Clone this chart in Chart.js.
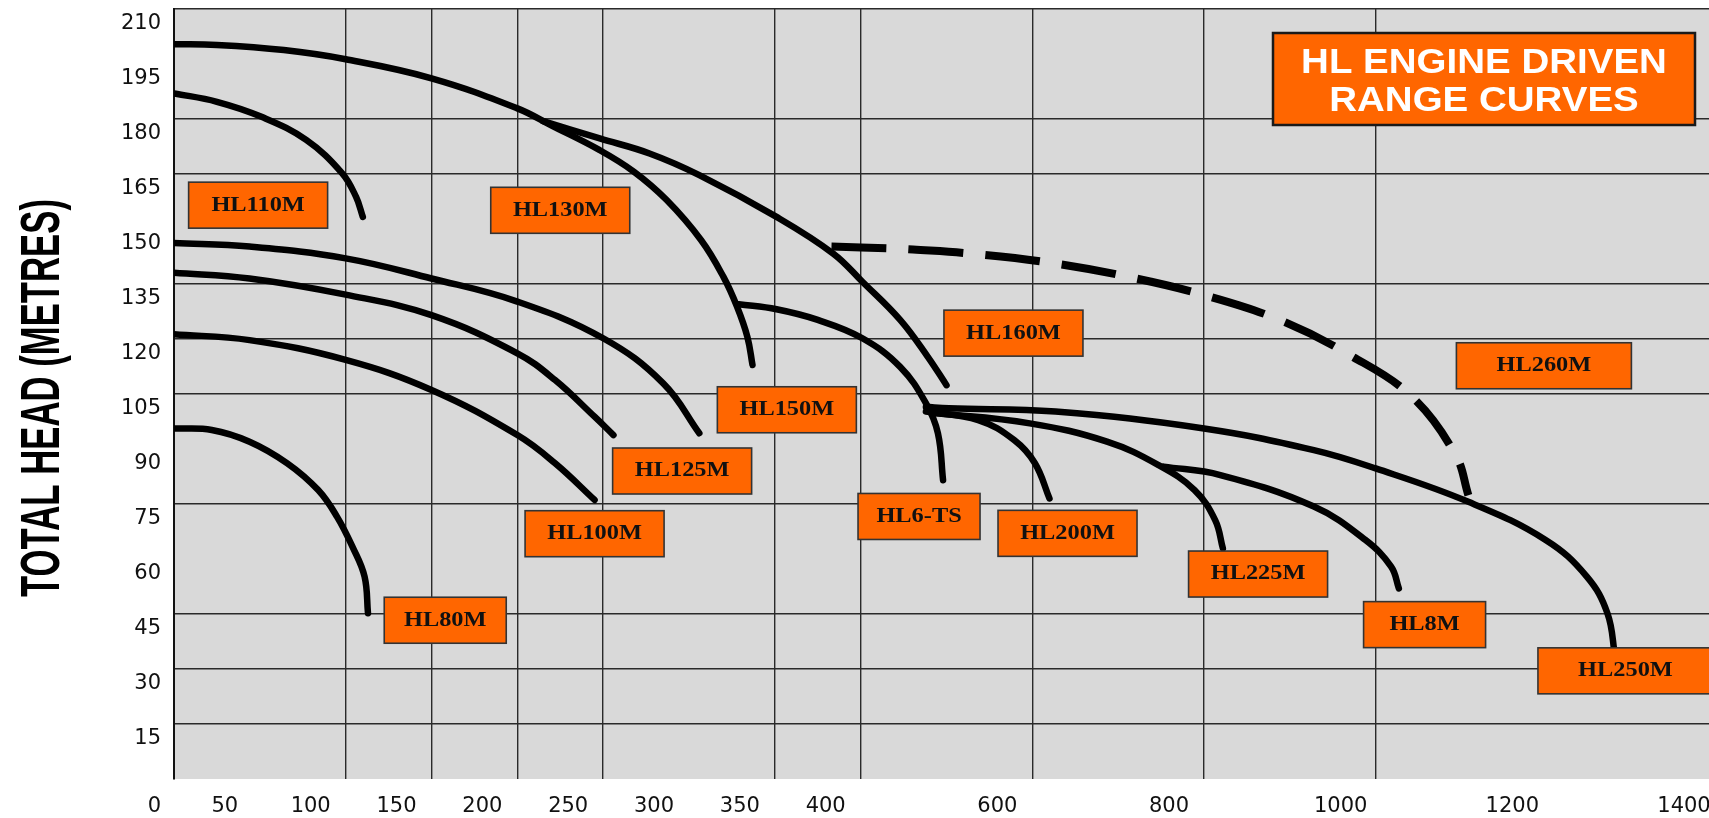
<!DOCTYPE html>
<html>
<head>
<meta charset="utf-8">
<script src="https://cdn.jsdelivr.net/npm/chart.js@4/dist/chart.umd.min.js"></script>
<style>
html,body{margin:0;padding:0;background:#fff;overflow:hidden;width:1709px;height:818px}
canvas{display:block}
</style>
</head>
<body>
<canvas id="c" width="1719" height="818" style="width:1719px;height:818px"></canvas>
<script>
// ---------- DATA (flow, total head in metres) ----------
const xTickValues = [0, 50, 100, 150, 200, 250, 300, 350, 400, 600, 800, 1000, 1200, 1400];
const xGridValues = [100, 150, 200, 250, 350, 400, 600, 800, 1000];
const yTickValues = [0, 15, 30, 45, 60, 75, 90, 105, 120, 135, 150, 165, 180, 195, 210];
const yGridValues = [15, 30, 45, 75, 105, 120, 135, 165, 180, 210];

const hl80mFlow = [0, 22, 44, 66, 84, 95, 104, 111, 113];
const hl80mHead = [95.6, 95.2, 92, 86.1, 78.8, 71.5, 63.3, 55.2, 45.2];

const hl110mFlow = [0, 25, 51, 77, 98, 106, 110];
const hl110mHead = [187, 184.7, 180.6, 174.3, 165.2, 158.8, 153.3];

const hl100mFlow = [0, 44, 100, 150, 200, 222, 245];
const hl100mHead = [121.3, 119.7, 114.3, 106.1, 93.8, 86.1, 76.1];

const hl125mFlow = [0, 44, 100, 150, 200, 222, 245, 256];
const hl125mHead = [138.1, 136.5, 132.1, 126.5, 116.1, 108.8, 98.8, 93.8];

const hl130mFlow = [0, 44, 100, 150, 200, 250, 285, 306];
const hl130mHead = [146.2, 145.2, 142, 136.5, 130.2, 120.2, 107.9, 94.3];

const hl150mFlow = [0, 25, 64, 100, 150, 200, 220, 248, 268, 287, 307, 320, 328, 334, 337];
const hl150mHead = [200.4, 200.2, 198.8, 196.3, 191.1, 182.9, 178.2, 171.5, 165.6, 157.9, 147, 137, 128.8, 120.6, 112.9];

const hl160mFlow = [215, 248, 277, 306, 351, 384, 402, 446, 478, 500];
const hl160mHead = [179.4, 174.7, 170.6, 164.7, 153.3, 143.3, 135.6, 125.2, 115.2, 107.4];

const hl6tsFlow = [329, 351, 375, 402, 446, 476, 490, 496];
const hl6tsHead = [129.5, 128.1, 125.2, 120.2, 112.4, 102.5, 94.3, 81.5];

const hl260mFlow = [383, 435, 461, 528, 621, 711, 800, 888, 970, 1042, 1093, 1108];
const hl260mHead = [145.2, 144.7, 144.4, 143.3, 140.8, 137, 132, 125.2, 115.6, 104.3, 88.4, 77.4];

const hl200mFlow = [476, 537, 579, 603, 620];
const hl200mHead = [100.2, 97.9, 92.4, 86.1, 76.5];

const hl225mFlow = [482, 597, 687, 747, 789, 813, 822];
const hl225mHead = [99.9, 97, 92, 85.6, 78.8, 70.6, 62.9];

const hl8mFlow = [753, 819, 928, 988, 1018, 1027];
const hl8mHead = [85.2, 82.9, 74.3, 65.2, 57.9, 52];

const hl250mFlow = [476, 503, 627, 800, 928, 1000, 1108, 1198, 1246, 1270, 1279];
const hl250mHead = [101.5, 101.1, 100.2, 95.6, 89.7, 84.7, 75.6, 65.2, 55.2, 45.2, 33.4];

// label boxes: name and anchor (flow, head) of box centre
const boxNames = ['HL110M', 'HL130M', 'HL80M', 'HL100M', 'HL125M', 'HL150M', 'HL160M', 'HL6-TS', 'HL200M', 'HL225M', 'HL8M', 'HL260M', 'HL250M'];
const boxFlow  = [49, 225, 158, 245, 296, 357, 578, 468, 641, 863, 1057, 1196, 1291];
const boxHead  = [156.5, 155.1, 43.3, 66.9, 84, 100.7, 121.6, 71.6, 67, 55.9, 42.1, 112.7, 29.5];

// ---------- AXIS MAPPING (0-400 full scale, above 400 compressed 2:1) ----------
function toAxis(q) { return q <= 400 ? q : 400 + (q - 400) / 2; }

const series = [
  { name: 'HL80M', flow: hl80mFlow, head: hl80mHead },
  { name: 'HL110M', flow: hl110mFlow, head: hl110mHead },
  { name: 'HL100M', flow: hl100mFlow, head: hl100mHead },
  { name: 'HL125M', flow: hl125mFlow, head: hl125mHead },
  { name: 'HL130M', flow: hl130mFlow, head: hl130mHead },
  { name: 'HL150M', flow: hl150mFlow, head: hl150mHead },
  { name: 'HL160M', flow: hl160mFlow, head: hl160mHead },
  { name: 'HL6-TS', flow: hl6tsFlow, head: hl6tsHead },
  { name: 'HL260M', flow: hl260mFlow, head: hl260mHead, dashed: true },
  { name: 'HL200M', flow: hl200mFlow, head: hl200mHead },
  { name: 'HL225M', flow: hl225mFlow, head: hl225mHead },
  { name: 'HL8M', flow: hl8mFlow, head: hl8mHead },
  { name: 'HL250M', flow: hl250mFlow, head: hl250mHead }
];

const datasets = series.map(s => ({
  label: s.name,
  data: s.flow.map((q, i) => ({ x: toAxis(q), y: s.head[i] })),
  borderColor: '#000',
  borderWidth: s.dashed ? 8 : 6.5,
  borderDash: s.dashed ? [55, 22] : [],
  borderCapStyle: s.dashed ? 'butt' : 'round',
  borderJoinStyle: 'round',
  pointRadius: 0,
  pointHoverRadius: 0,
  fill: false,
  tension: 0.4
}));

const ORANGE = '#ff6600';

function stretchedText(ctx, text, x, y, sx) {
  ctx.save();
  ctx.translate(x, y);
  ctx.scale(sx, 1);
  ctx.fillText(text, 0, 0);
  ctx.restore();
}

const decorPlugin = {
  id: 'decor',
  beforeDraw(chart) {
    const { ctx, chartArea: a } = chart;
    ctx.save();
    ctx.fillStyle = '#d9d9d9';
    ctx.fillRect(a.left, a.top, a.right - a.left, a.bottom - a.top);
    ctx.restore();
  },
  afterDatasetsDraw(chart) {
    const { ctx } = chart;
    const xs = chart.scales.x, ys = chart.scales.y;
    ctx.save();
    ctx.textAlign = 'center';
    ctx.textBaseline = 'middle';
    boxNames.forEach((name, i) => {
      const cx = xs.getPixelForValue(toAxis(boxFlow[i]));
      const cy = ys.getPixelForValue(boxHead[i]);
      const w = name.length <= 5 || name === 'HL6-TS' ? 122 : (name === 'HL260M' || name === 'HL250M' ? 175 : 139);
      const h = 46;
      ctx.fillStyle = ORANGE;
      ctx.fillRect(cx - w / 2, cy - h / 2, w, h);
      ctx.lineWidth = 1.6;
      ctx.strokeStyle = '#333';
      ctx.strokeRect(cx - w / 2, cy - h / 2, w, h);
      ctx.fillStyle = '#111';
      ctx.font = 'bold 21px "Liberation Serif", "DejaVu Serif", serif';
      stretchedText(ctx, name, cx, cy, 1.16);
    });

    // title box
    const tx = 1273, ty = 33, tw = 422, th = 92;
    ctx.fillStyle = ORANGE;
    ctx.fillRect(tx, ty, tw, th);
    ctx.lineWidth = 2.5;
    ctx.strokeStyle = '#1a1a1a';
    ctx.strokeRect(tx, ty, tw, th);
    ctx.fillStyle = '#fff';
    ctx.font = 'bold 35px "Liberation Sans", Arial, sans-serif';
    stretchedText(ctx, 'HL ENGINE DRIVEN', tx + tw / 2, 63, 1.1);
    stretchedText(ctx, 'RANGE CURVES', tx + tw / 2, 101, 1.1);
    ctx.restore();
  },
  afterDraw(chart) {
    const { ctx } = chart;
    ctx.save();
    ctx.translate(44, 398);
    ctx.rotate(-Math.PI / 2);
    ctx.scale(0.62, 1);
    ctx.fillStyle = '#000';
    ctx.font = 'bold 56px "Liberation Sans", Arial, sans-serif';
    ctx.textAlign = 'center';
    ctx.textBaseline = 'middle';
    ctx.fillText('TOTAL HEAD (METRES)', 0, 0);
    ctx.restore();
  }
};

const tickFont = { family: '"DejaVu Sans", Verdana, sans-serif', size: 21 };

new Chart(document.getElementById('c'), {
  type: 'line',
  data: { datasets },
  plugins: [decorPlugin],
  options: {
    responsive: false,
    animation: false,
    devicePixelRatio: 1,
    layout: { padding: { top: 9, left: 0, right: 0, bottom: 0 } },
    plugins: { legend: { display: false }, tooltip: { enabled: false }, title: { display: false } },
    scales: {
      x: {
        type: 'linear',
        min: 0,
        max: 900,
        afterBuildTicks: s => { s.ticks = xTickValues.map(v => ({ value: toAxis(v) })); },
        afterFit: s => { s.height = 39; s.paddingLeft = 0; s.paddingRight = 0; },
        ticks: {
          autoSkip: false, maxRotation: 0, minRotation: 0,
          labelOffset: -35, padding: 15, color: '#111', font: tickFont,
          // the shared origin "0" is printed once, by the head axis
          callback: (v, i) => (xTickValues[i] === 0 ? '' : String(xTickValues[i]))
        },
        grid: {
          drawTicks: false,
          lineWidth: 1.4,
          color: c => xGridValues.includes(xTickValues[c.index]) ? '#2a2a2a' : 'rgba(0,0,0,0)'
        },
        border: { display: false }
      },
      y: {
        type: 'linear',
        min: 0,
        max: 210,
        afterBuildTicks: s => { s.ticks = yTickValues.map(v => ({ value: v })); },
        afterFit: s => { s.width = 174; s.paddingTop = 0; s.paddingBottom = 0; },
        ticks: {
          autoSkip: false, labelOffset: 15, padding: 13, color: '#111', font: tickFont,
          callback: (v, i) => (yTickValues[i] === 0 ? ['', '0'] : String(yTickValues[i]))
        },
        grid: {
          drawTicks: false,
          lineWidth: 1.4,
          color: c => yGridValues.includes(yTickValues[c.index]) ? '#2a2a2a' : 'rgba(0,0,0,0)'
        },
        border: { display: true, color: '#111', width: 2 }
      }
    }
  }
});
</script>
</body>
</html>
